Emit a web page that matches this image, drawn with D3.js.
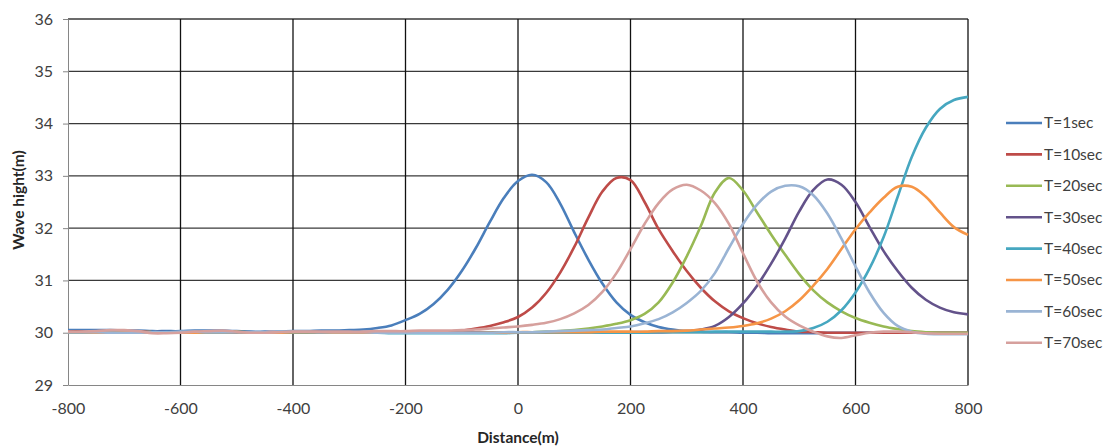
<!DOCTYPE html>
<meta charset="utf-8">
<title>Wave hight</title>
<script src="https://d3js.org/d3.v7.min.js"></script>
<style>
	body {
		margin: 0;
		background: #fff;
		font-family: Lato, "Open Sans", sans-serif;
	}
	.tick text {
		fill: #404040;
		font-size: 16px;
	}
	.legend text {
		fill: #404040;
		font-size: 15.5px;
	}
	.title {
		fill: #262626;
		font-size: 15.5px;
		font-weight: bold;
	}
</style>
<svg id="chart" width="1111" height="448"></svg>
<script>

// distance (m), one reading every 25 m
var distance = d3.range(-800, 801, 25);

var yTicks = [29, 30, 31, 32, 33, 34, 35, 36];
var xTicks = [-800, -600, -400, -200, 0, 200, 400, 600, 800];

var t1 = [30.05,30.05,30.05,30.05,30.04,30.04,30.03,30.03,30.03,30.04,30.04,30.04,30.03,30.02,30.02,30.02,30.03,30.03,30.04,30.04,
	30.05,30.06,30.09,30.14,30.24,30.36,30.55,30.82,31.18,31.62,32.12,32.58,32.90,33.02,32.88,32.47,31.92,31.40,30.94,30.58,30.34,30.20,30.11,30.06,30.03,30.02,30.01,30.01,30.00,
	30.00,29.99,29.99,29.99,29.99,30.00,30.00,30.00,30.00,30.00,30.00,30.00,30.00,30.00,30.00,30.00];

var t10 = [30.02,30.02,30.01,30.01,30.02,30.02,30.01,30.00,30.00,30.00,30.01,30.01,30.00,30.00,30.01,30.01,30.01,30.01,30.01,30.01,
	30.01,30.01,30.01,30.01,30.01,30.01,30.01,30.02,30.04,30.08,30.13,30.20,30.30,30.48,30.76,31.15,31.64,32.20,32.70,32.96,32.92,32.50,31.98,31.56,31.18,30.86,30.60,30.41,30.28,30.18,30.11,30.06,30.02,30.01,
	30.00,30.00,30.00,30.00,30.00,30.00,30.00,30.00,30.00,30.00,30.00];

var t20 = [30.01,30.01,30.01,30.02,30.02,30.01,30.01,30.00,30.00,30.01,30.01,30.02,30.02,30.01,30.01,30.01,30.01,30.01,30.01,30.01,
	30.01,30.01,30.01,30.01,30.01,30.01,30.01,30.01,30.01,30.01,30.01,30.01,30.01,30.01,
	30.02,30.03,30.05,30.08,30.12,30.17,30.24,30.36,30.58,30.96,31.46,32.04,32.68,32.96,32.72,32.30,31.88,31.49,31.12,30.81,30.58,30.41,30.28,30.19,30.12,30.07,30.03,30.01,30.00,30.00,30.00];

var t30 = [30.00,30.01,30.01,30.01,30.00,30.00,30.01,30.01,30.01,30.00,30.00,30.01,30.01,30.01,30.00,30.00,30.00,30.01,30.01,30.01,
	30.01,30.01,30.01,30.00,30.00,30.00,30.01,30.01,30.01,30.01,30.00,30.00,30.00,30.00,30.00,30.00,30.00,30.00,30.00,30.00,30.01,30.01,30.01,30.02,30.03,30.06,
	30.13,30.30,30.56,30.90,31.32,31.80,32.32,32.73,32.93,32.83,32.50,32.02,31.56,31.18,30.86,30.63,30.48,30.39,30.35];

var t40 = [30.00,30.00,30.01,30.01,30.00,30.00,30.00,30.01,30.01,30.00,30.00,30.00,30.01,30.01,30.00,30.00,30.00,30.00,30.01,30.01,
	30.00,30.00,30.00,29.99,29.99,29.99,29.99,29.99,29.99,29.99,29.99,29.99,30.00,30.00,30.00,30.00,30.00,30.00,30.00,30.00,30.00,30.00,30.01,30.01,30.01,30.01,30.02,30.02,30.02,30.02,30.02,30.02,
	30.03,30.09,30.21,30.43,30.77,31.23,31.83,32.60,33.36,33.92,34.28,34.45,34.51];

var t50 = [30.01,30.01,30.00,30.00,30.01,30.01,30.01,30.00,30.00,30.00,30.01,30.01,30.01,30.00,30.00,30.00,30.01,30.01,30.01,30.00,
	30.00,30.00,30.00,30.00,30.00,30.00,30.00,30.00,30.00,30.00,30.00,30.00,30.01,30.01,30.01,30.01,30.01,30.01,30.02,30.02,30.02,30.02,30.03,30.03,
	30.04,30.06,30.08,30.10,30.13,30.18,30.27,30.41,30.62,30.90,31.22,31.60,31.98,32.30,32.58,32.79,32.79,32.60,32.30,32.02,31.87];

var t60 = [30.01,30.01,30.01,30.00,30.00,30.00,30.01,30.01,30.02,30.02,30.01,30.01,30.01,30.01,30.01,30.02,30.02,30.02,30.01,30.01,
	30.01,30.01,30.00,30.00,30.00,30.00,30.00,30.00,30.00,30.00,30.00,30.01,30.01,30.01,30.02,30.03,30.04,30.05,
	30.06,30.09,30.12,30.18,30.26,30.39,30.57,30.80,31.14,31.62,32.08,32.45,32.70,32.81,32.80,32.63,32.28,31.80,31.27,30.77,30.38,30.13,30.02,29.98,29.97,29.97,29.97];

var t70 = [30.02,30.02,30.03,30.05,30.05,30.03,29.99,29.99,30.00,30.02,30.03,30.04,30.02,30.00,30.00,30.01,30.02,30.02,30.02,30.02,
	30.02,30.02,30.03,30.03,30.03,30.04,30.04,30.04,
	30.05,30.06,30.08,30.10,30.12,30.15,30.19,30.26,30.37,30.53,30.78,31.14,31.60,32.08,32.48,32.74,32.83,32.72,32.48,32.08,31.52,30.98,30.58,30.31,30.14,30.02,29.93,29.90,29.95,30.00,30.02,30.02,30.01,29.99,29.98,29.98,29.98];

var seriesNames = ["T=1sec", "T=10sec", "T=20sec", "T=30sec", "T=40sec", "T=50sec", "T=60sec", "T=70sec"];
var seriesColors = ["#4a7ebb", "#be4b48", "#98b954", "#63528a", "#46a7c0", "#f69546", "#9ab4d4", "#d6a09d"];
var seriesValues = [t1, t10, t20, t30, t40, t50, t60, t70];

var svg = d3.select("#chart");

var plotLeft = 68, plotRight = 968, plotTop = 19, plotBottom = 385;

var x = d3.scaleLinear().domain([-800, 800]).range([plotLeft, plotRight]);
var y = d3.scaleLinear().domain([29, 36]).range([plotBottom, plotTop]);

// gridlines
svg.append("g")
	.selectAll("line")
	.data(yTicks.slice(1))
	.enter().append("line")
	.attr("x1", plotLeft).attr("x2", plotRight)
	.attr("y1", function(d) { return y(d); })
	.attr("y2", function(d) { return y(d); })
	.attr("stroke", "#3a3a3a")
	.attr("stroke-width", 1.3);

svg.append("g")
	.selectAll("line")
	.data(xTicks.slice(1))
	.enter().append("line")
	.attr("x1", function(d) { return x(d); })
	.attr("x2", function(d) { return x(d); })
	.attr("y1", plotTop).attr("y2", plotBottom)
	.attr("stroke", "#111")
	.attr("stroke-width", 1.3);

// axes (plain hyphen for negatives, like the original)
var fmt = function(d) { return String(d); };

svg.append("g")
	.attr("transform", "translate(" + plotLeft + ",0)")
	.call(d3.axisLeft(y).tickValues(yTicks).tickSizeInner(5).tickSizeOuter(0).tickPadding(10).tickFormat(fmt));

svg.append("g")
	.attr("transform", "translate(0," + plotBottom + ")")
	.call(d3.axisBottom(x).tickValues(xTicks).tickSize(0).tickPadding(18).tickFormat(fmt));

svg.selectAll(".domain").attr("stroke", "#868686");
svg.selectAll(".tick line").attr("stroke", "#868686");
svg.selectAll(".tick text").style("font-family", "Lato, sans-serif");

// series lines
var line = d3.line()
	.x(function(d, i) { return x(distance[i]); })
	.y(function(d) { return y(d); })
	.curve(d3.curveCatmullRom.alpha(0.5));

svg.append("g")
	.selectAll("path")
	.data(seriesValues)
	.enter().append("path")
	.attr("d", line)
	.attr("fill", "none")
	.attr("stroke", function(d, i) { return seriesColors[i]; })
	.attr("stroke-width", 2.6)
	.attr("stroke-linejoin", "round");

// axis titles
svg.append("text")
	.attr("class", "title")
	.attr("x", 518).attr("y", 443)
	.attr("text-anchor", "middle")
	.text("Distance(m)");

svg.append("text")
	.attr("class", "title")
	.attr("transform", "translate(24,200) rotate(-90)")
	.attr("text-anchor", "middle")
	.text("Wave hight(m)");

// legend
var legend = svg.append("g")
	.attr("class", "legend")
	.selectAll("g")
	.data(seriesNames)
	.enter().append("g")
	.attr("transform", function(d, i) { return "translate(1006," + (123 + i * 31.4) + ")"; });

legend.append("line")
	.attr("x1", 0).attr("x2", 36)
	.attr("stroke", function(d, i) { return seriesColors[i]; })
	.attr("stroke-width", 2.6);

legend.append("text")
	.attr("x", 38).attr("dy", "0.35em")
	.text(function(d) { return d; });

</script>
